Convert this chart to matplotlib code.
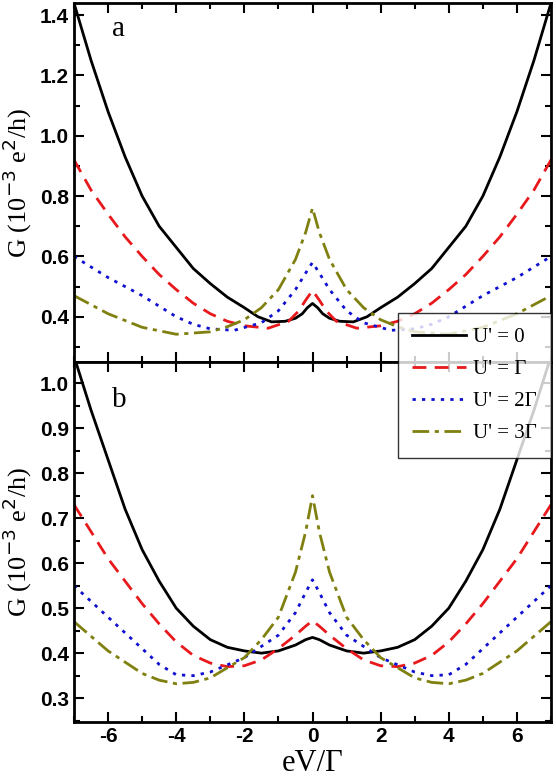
import matplotlib
matplotlib.use("Agg")
import matplotlib.pyplot as plt
from matplotlib.ticker import MultipleLocator
plt.rcParams['axes.unicode_minus'] = False

xa = [-7, -6.5, -6, -5.5, -5, -4.5, -4, -3.5, -3, -2.5, -2, -1.6, -1.2, -0.8, -0.5, -0.3, -0.15, 0,
      0.15, 0.3, 0.5, 0.8, 1.2, 1.6, 2, 2.5, 3, 3.5, 4, 4.5, 5, 5.5, 6, 6.5, 7]
a_black = [1.44, 1.25, 1.08, 0.93, 0.80, 0.70, 0.63, 0.56, 0.51, 0.465, 0.43, 0.40, 0.383, 0.385, 0.395, 0.41, 0.43, 0.444,
           0.43, 0.41, 0.395, 0.385, 0.383, 0.40, 0.43, 0.465, 0.51, 0.56, 0.63, 0.70, 0.80, 0.93, 1.08, 1.25, 1.44]

xr = [-7, -6.5, -6, -5.5, -5, -4.5, -4, -3.5, -3, -2.5, -2, -1.3, -0.7, -0.4, -0.2, 0,
      0.2, 0.4, 0.7, 1.3, 2, 2.5, 3, 3.5, 4, 4.5, 5, 5.5, 6, 6.5, 7]
a_red = [0.92, 0.82, 0.74, 0.665, 0.60, 0.54, 0.49, 0.445, 0.41, 0.385, 0.37, 0.362, 0.385, 0.42, 0.455, 0.487,
         0.455, 0.42, 0.385, 0.362, 0.37, 0.385, 0.41, 0.445, 0.49, 0.54, 0.60, 0.665, 0.74, 0.82, 0.92]

xb = [-7, -6, -5, -4.5, -4, -3.5, -3, -2.3, -1.5, -1, -0.5, -0.2, 0, 0.2, 0.5, 1, 1.5, 2.3, 3, 3.5, 4, 4.5, 5, 6, 7]
a_blue = [0.60, 0.53, 0.47, 0.435, 0.40, 0.375, 0.36, 0.355, 0.38, 0.42, 0.49, 0.545, 0.58,
          0.545, 0.49, 0.42, 0.38, 0.355, 0.36, 0.375, 0.40, 0.435, 0.47, 0.53, 0.60]

xo = [-7, -6, -5, -4, -3, -2.5, -2, -1.5, -1, -0.5, -0.2, 0, 0.2, 0.5, 1, 1.5, 2, 2.5, 3, 4, 5, 6, 7]
a_olive = [0.47, 0.41, 0.365, 0.342, 0.35, 0.367, 0.39, 0.43, 0.49, 0.59, 0.68, 0.76,
           0.68, 0.59, 0.49, 0.43, 0.39, 0.367, 0.35, 0.342, 0.365, 0.41, 0.47]

xk2 = [-7, -6.5, -6, -5.5, -5, -4.5, -4, -3.5, -3, -2.5, -2, -1.5, -1, -0.5, -0.2, 0,
       0.2, 0.5, 1, 1.5, 2, 2.5, 3, 3.5, 4, 4.5, 5, 5.5, 6, 6.5, 7]
b_black = [1.06, 0.94, 0.83, 0.72, 0.63, 0.56, 0.50, 0.46, 0.43, 0.413, 0.405, 0.40, 0.405, 0.418, 0.43, 0.435,
           0.43, 0.418, 0.405, 0.40, 0.405, 0.413, 0.43, 0.46, 0.50, 0.56, 0.63, 0.72, 0.83, 0.94, 1.06]

xr2 = [-7, -6, -5, -4.5, -4, -3.5, -3, -2.5, -2, -1.5, -1, -0.5, -0.2, 0, 0.2, 0.5, 1, 1.5, 2, 2.5, 3, 3.5, 4, 4.5, 5, 6, 7]
b_red = [0.73, 0.61, 0.51, 0.465, 0.425, 0.395, 0.378, 0.37, 0.372, 0.385, 0.41, 0.44, 0.46, 0.472,
         0.46, 0.44, 0.41, 0.385, 0.372, 0.37, 0.378, 0.395, 0.425, 0.465, 0.51, 0.61, 0.73]

xb2 = [-7, -6, -5, -4.5, -4, -3.5, -3, -2, -1, -0.5, -0.2, 0, 0.2, 0.5, 1, 2, 3, 3.5, 4, 4.5, 5, 6, 7]
b_blue = [0.55, 0.48, 0.41, 0.375, 0.352, 0.35, 0.358, 0.39, 0.44, 0.49, 0.535, 0.563,
          0.535, 0.49, 0.44, 0.39, 0.358, 0.35, 0.352, 0.375, 0.41, 0.48, 0.55]

xo2 = [-7, -6, -5, -4.5, -4, -3.5, -3, -2, -1.5, -1, -0.5, -0.2, 0, 0.2, 0.5, 1, 1.5, 2, 3, 3.5, 4, 4.5, 5, 6, 7]
b_olive = [0.47, 0.405, 0.355, 0.34, 0.332, 0.335, 0.345, 0.39, 0.43, 0.48, 0.58, 0.67, 0.75,
           0.67, 0.58, 0.48, 0.43, 0.39, 0.345, 0.335, 0.332, 0.34, 0.355, 0.405, 0.47]

labels = ["U' = 0", "U' = Γ", "U' = 2Γ", "U' = 3Γ"]
colors = ["black", "#e8191c", "#1010d0", "#808010"]
styles = ["-", (0, (5, 3)), (0, (1.2, 2.2)), (0, (6, 2, 1.5, 2))]

fig = plt.figure(figsize=(5.56, 7.79), dpi=100)
ax1 = fig.add_axes([74/556, 1-362/779, 477/556, 359/779])
ax2 = fig.add_axes([74/556, 1-722/779, 477/556, 360/779], sharex=ax1)

top = [(xa, a_black), (xr, a_red), (xb, a_blue), (xo, a_olive)]
bot = [(xk2, b_black), (xr2, b_red), (xb2, b_blue), (xo2, b_olive)]
lines = []
for (x, y), c, s in zip(top, colors, styles):
    ax1.plot(x, y, color=c, ls=s, lw=2)
for (x, y), c, s, l in zip(bot, colors, styles, labels):
    ln, = ax2.plot(x, y, color=c, ls=s, lw=2, label=l)
    lines.append(ln)

ax1.set_ylim(0.25, 1.44)
ax2.set_ylim(0.247, 1.047)
ax1.set_xlim(-7, 7)
ax1.yaxis.set_major_locator(MultipleLocator(0.2))
ax1.yaxis.set_minor_locator(MultipleLocator(0.1))
ax2.yaxis.set_major_locator(MultipleLocator(0.1))
ax2.yaxis.set_minor_locator(MultipleLocator(0.05))
ax2.xaxis.set_major_locator(MultipleLocator(2))
ax2.xaxis.set_minor_locator(MultipleLocator(1))
for ax in (ax1, ax2):
    for sp in ax.spines.values():
        sp.set_linewidth(2)
    ax.tick_params(which="both", direction="in", top=True, right=True, width=1.5)
    ax.tick_params(which="major", length=7)
    ax.tick_params(which="minor", length=4)
    for t in ax.get_yticklabels() + ax.get_xticklabels():
        t.set_fontfamily("Liberation Sans")
        t.set_fontweight("bold")
        t.set_fontsize(15)
    ax.set_ylabel(r"G (10$^{-3}$ e$^2$/h)", fontsize=19, family="Liberation Serif", labelpad=4)
ax1.tick_params(labelbottom=False)
ax2.set_xlabel("eV/Γ", fontsize=22, family="Liberation Serif", labelpad=2)
ax1.text(0.08, 0.965, "a", transform=ax1.transAxes, fontsize=21, family="Liberation Serif", va="top")
ax2.text(0.08, 0.93, "b", transform=ax2.transAxes, fontsize=21, family="Liberation Serif", va="top")

leg = fig.legend(handles=lines, loc="upper right", bbox_to_anchor=(551/556, 1-313/779),
                 prop={"family": "Liberation Serif", "size": 15}, frameon=True, fancybox=False,
                 edgecolor="black", handlelength=2.6, handletextpad=0.3, borderpad=0.7,
                 labelspacing=0.6, borderaxespad=0)
leg.get_frame().set_linewidth(1)
fig.savefig("out.png", dpi=100)
